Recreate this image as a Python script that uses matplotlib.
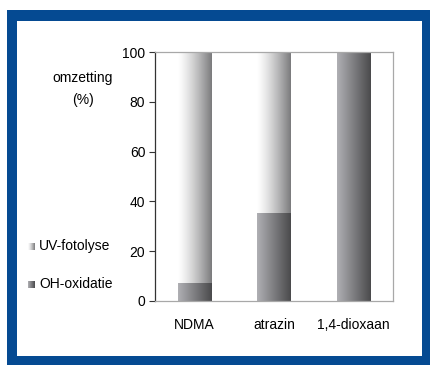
import numpy as np
import matplotlib
matplotlib.use("Agg")
import matplotlib.pyplot as plt
from matplotlib.patches import Rectangle

plt.rcParams['font.family'] = ['Liberation Sans', 'DejaVu Sans']

categories = ["NDMA", "atrazin", "1,4-dioxaan"]
oh_oxidatie = [7.3, 35.4, 100.0]
uv_fotolyse = [92.7, 64.6, 0.0]
series_names = ["UV-fotolyse", "OH-oxidatie"]
y_ticks = [0, 20, 40, 60, 80, 100]

W, H = 430, 365
fig = plt.figure(figsize=(W / 100, H / 100), dpi=100)

def px(x, y, w, h):
    # pixel box (top-left origin) -> figure fraction rectangle
    return (x / W, 1 - (y + h) / H, w / W, h / H)

# blue frame around the panel
blue = "#054a92"
x0, y0, w0, h0 = px(7, 10, 430 - 7, 365 - 10)
fig.patches.append(Rectangle((x0, y0), w0, h0, transform=fig.transFigure,
                             facecolor=blue, edgecolor="none", zorder=-2))
x1, y1, w1, h1 = px(17, 21, 422 - 17, 356 - 21)
fig.patches.append(Rectangle((x1, y1), w1, h1, transform=fig.transFigure,
                             facecolor="white", edgecolor="none", zorder=-1))

ax = fig.add_axes(px(155, 52, 238, 249))
ax.set_facecolor("none")

# horizontal gradients: left -> right
grad = np.linspace(0, 1, 256).reshape(1, -1)
def ramp(c_left, c_right, gamma):
    a = np.array(matplotlib.colors.to_rgb(c_left))
    b = np.array(matplotlib.colors.to_rgb(c_right))
    t = grad[..., None] ** gamma
    return a + (b - a) * t

uv_img = ramp("#ffffff", "#7a7a7c", 1.3)
oh_img = ramp("#b0b0b4", "#4a4a4c", 1.0)

xpos = np.arange(len(categories))
width = 0.42
bars_oh = ax.bar(xpos, oh_oxidatie, width, color="none", edgecolor="none")
bars_uv = ax.bar(xpos, uv_fotolyse, width, bottom=oh_oxidatie,
                 color="none", edgecolor="none")

def fill_gradient(bars, img):
    for b in bars:
        if b.get_height() <= 0:
            continue
        x, y = b.get_x(), b.get_y()
        im = ax.imshow(img, extent=(x, x + b.get_width(), y, y + b.get_height()),
                       aspect="auto", interpolation="bilinear", zorder=2)
        im.set_clip_path(b)

fill_gradient(bars_oh, oh_img)
fill_gradient(bars_uv, uv_img)

ax.set_xlim(-0.5, len(categories) - 0.5)
ax.set_ylim(0, 100)
ax.set_yticks(y_ticks)
ax.set_xticks(xpos)
ax.set_xticklabels(categories)
ax.tick_params(axis="y", direction="out", length=4, width=0.8,
               color="#333333", labelsize=10, pad=3)
ax.tick_params(axis="x", length=0, labelsize=10, pad=12)

ax.spines["left"].set_color("#333333")
ax.spines["left"].set_linewidth(0.9)
for s in ("top", "right", "bottom"):
    ax.spines[s].set_color("#a8a8a8")
    ax.spines[s].set_linewidth(0.9)

# axis title
fig.text(83 / W, 1 - 78 / H, "omzetting", ha="center", va="center", fontsize=10)
fig.text(83 / W, 1 - 100 / H, "(%)", ha="center", va="center", fontsize=10)

# legend with gradient swatches
for name, img, ly in [(series_names[0], uv_img, 246), (series_names[1], oh_img, 284)]:
    sw = fig.add_axes(px(28, ly - 3.5, 7, 7))
    sw.imshow(img, aspect="auto", interpolation="bilinear")
    sw.axis("off")
    fig.text(39 / W, 1 - ly / H, name, ha="left", va="center", fontsize=10)

fig.savefig("out.png", dpi=100)
